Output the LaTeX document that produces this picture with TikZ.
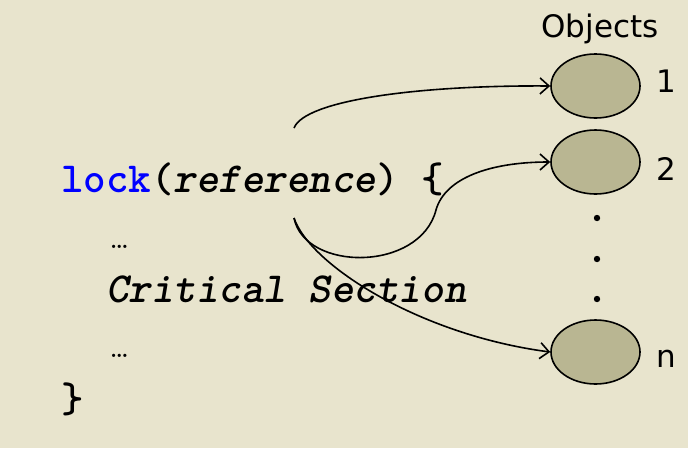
\documentclass[tikz,border=0pt]{standalone}
\usepackage{fontspec}
\setsansfont{DejaVu Sans}
\usepackage{tikz}
\usetikzlibrary{shapes.geometric,arrows.meta,positioning}

\definecolor{bgcol}{RGB}{232,228,205}
\definecolor{objcol}{RGB}{185,182,146}

\tikzset{
  code/.style={inner sep=0pt,anchor=base west,font=\fontsize{42.9}{45}\selectfont\ttfamily\bfseries},
  dotsline/.style={inner sep=0pt,anchor=base west,font=\fontsize{23}{25}\selectfont\rmfamily\bfseries},
  objlabel/.style={inner sep=0pt,font=\fontsize{31}{34}\selectfont\sffamily},
  object/.style={ellipse,draw,line width=1.6pt,fill=objcol,minimum width=89pt,minimum height=64pt,inner sep=0pt},
  ref/.style={line width=1.6pt,-{Straight Barb[length=9pt,width=16pt,line width=1.6pt]}}
}

\begin{document}
\begin{tikzpicture}[x=1pt,y=-1pt]
\fill[bgcol] (0,0) rectangle (688,448);
\useasboundingbox (0,0) rectangle (688,448);

% the code block
\node[code] (lockline) at (61,192) {\textcolor{blue}{lock}(\textsl{reference}) \{};
\node[dotsline] (dotsa) at (110,248) {…};
\node[code] (crit) at (106,302) {\textsl{Critical Section}};
\node[dotsline] (dotsb) at (110,357) {…};
\node[code] (close) at (61,412) {\}};

\coordinate (reftop) at (294,128);
\coordinate (refbot) at (294,218);

% the objects
\node[objlabel,anchor=base] (objtitle) at (600,37) {Objects};
\foreach \name/\y/\lab/\base in {obj1/86/1/92, obj2/162/2/180, objn/352/n/367}
{
  \node[object] (\name) at (595.5,\y) {};
  \node[objlabel,anchor=base west] (\name-lab) at (656,\base) {\lab};
}
\foreach \y in {218,259,299}
  \fill (597,\y) circle [radius=3.2pt];

% references to the objects
\draw[ref] (reftop) .. controls (305,100) and (420,85) .. (obj1.west);
\draw[ref] (refbot) .. controls (305,272) and (420,272) .. (436,210)
                    .. controls (445,178) and (490,162) .. (obj2.west);
\draw[ref] (refbot) .. controls (310,265) and (420,335) .. (objn.west);
\end{tikzpicture}
\end{document}
